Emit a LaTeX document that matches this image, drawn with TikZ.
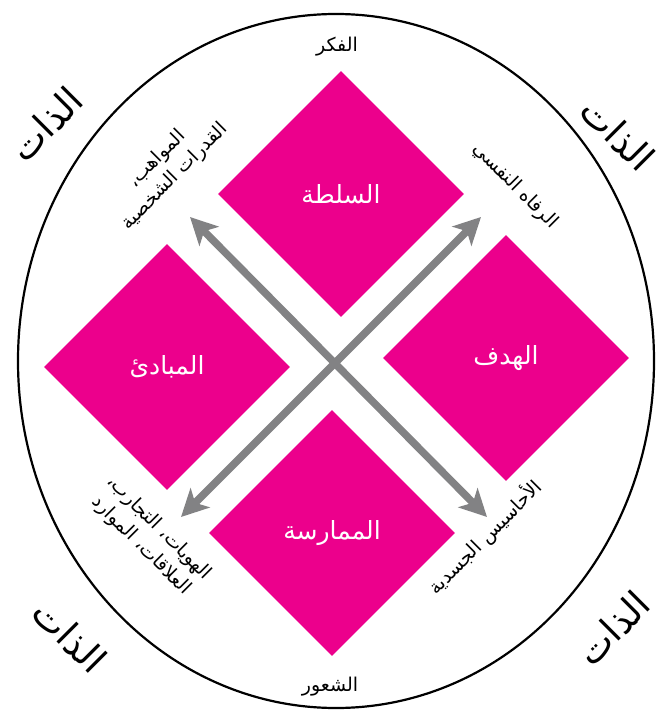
\documentclass[tikz,border=0pt]{standalone}
\usepackage{fontspec}
\newfontfamily\arabicfont[Script=Arabic]{DejaVu Sans}
\TeXXeTstate=1
\usetikzlibrary{shapes.geometric,arrows.meta}
\definecolor{mag}{RGB}{236,0,140}
\definecolor{arrgray}{RGB}{130,130,132}
\newcommand{\arb}[1]{\beginR #1\endR}
\begin{document}
\begin{tikzpicture}[x=1pt,y=-1pt,
  dia/.style={diamond, aspect=1, fill=mag, minimum width=246pt, minimum height=246pt, inner sep=0pt, text=white, font=\arabicfont\fontsize{25}{29}\selectfont},
  lbl/.style={font=\arabicfont\fontsize{19}{25}\selectfont, align=center, inner sep=0pt},
  selfl/.style={font=\arabicfont\fontsize{37}{41}\selectfont, inner sep=0pt},
  arr/.style={draw=arrgray, line width=7.5pt, {Stealth[length=27pt,width=27pt,inset=7pt]}-{Stealth[length=27pt,width=27pt,inset=7pt]}}
]
\useasboundingbox (0,0) rectangle (661,711);
\fill[white] (0,0) rectangle (661,711);
\node[ellipse, draw=black, line width=2.2pt, minimum width=636pt, minimum height=694pt, inner sep=0pt] (outer) at (336,361) {};

\node[dia] (top) at (341,194) {\arb{السلطة}};
\node[dia] (left) at (167,367) {\arb{المبادئ}};
\node[dia] (right) at (506,358) {\arb{الهدف}};
\node[dia] (bottom) at (332,533) {\arb{الممارسة}};

\coordinate (nw) at (190,217);
\coordinate (se) at (487,517);
\coordinate (ne) at (481,217);
\coordinate (sw) at (181,517);
\draw[arr] (nw) -- (se);
\draw[arr] (sw) -- (ne);

\node[lbl] (fikr) at (337,47) {\arb{الفكر}};
\node[lbl] (shuur) at (330,687) {\arb{الشعور}};
\node[lbl, rotate=45] (tl) at (166,168) {\arb{المواهب،}\\\arb{القدرات الشخصية}};
\node[lbl, rotate=-45] (tr) at (515,186) {\arb{الرفاه النفسي}};
\node[lbl, rotate=-45] (bl) at (150,537) {\arb{الهويات، التجارب،}\\\arb{العلاقات، الموارد}};
\node[lbl, rotate=45] (br) at (485,537) {\arb{الأحاسيس الجسدية}};

\node[selfl, rotate=45] (s1) at (46,124) {\arb{الذات}};
\node[selfl, rotate=-45] (s2) at (618,134) {\arb{الذات}};
\node[selfl, rotate=-45] (s3) at (70,636) {\arb{الذات}};
\node[selfl, rotate=45] (s4) at (613,628) {\arb{الذات}};
\end{tikzpicture}
\end{document}
